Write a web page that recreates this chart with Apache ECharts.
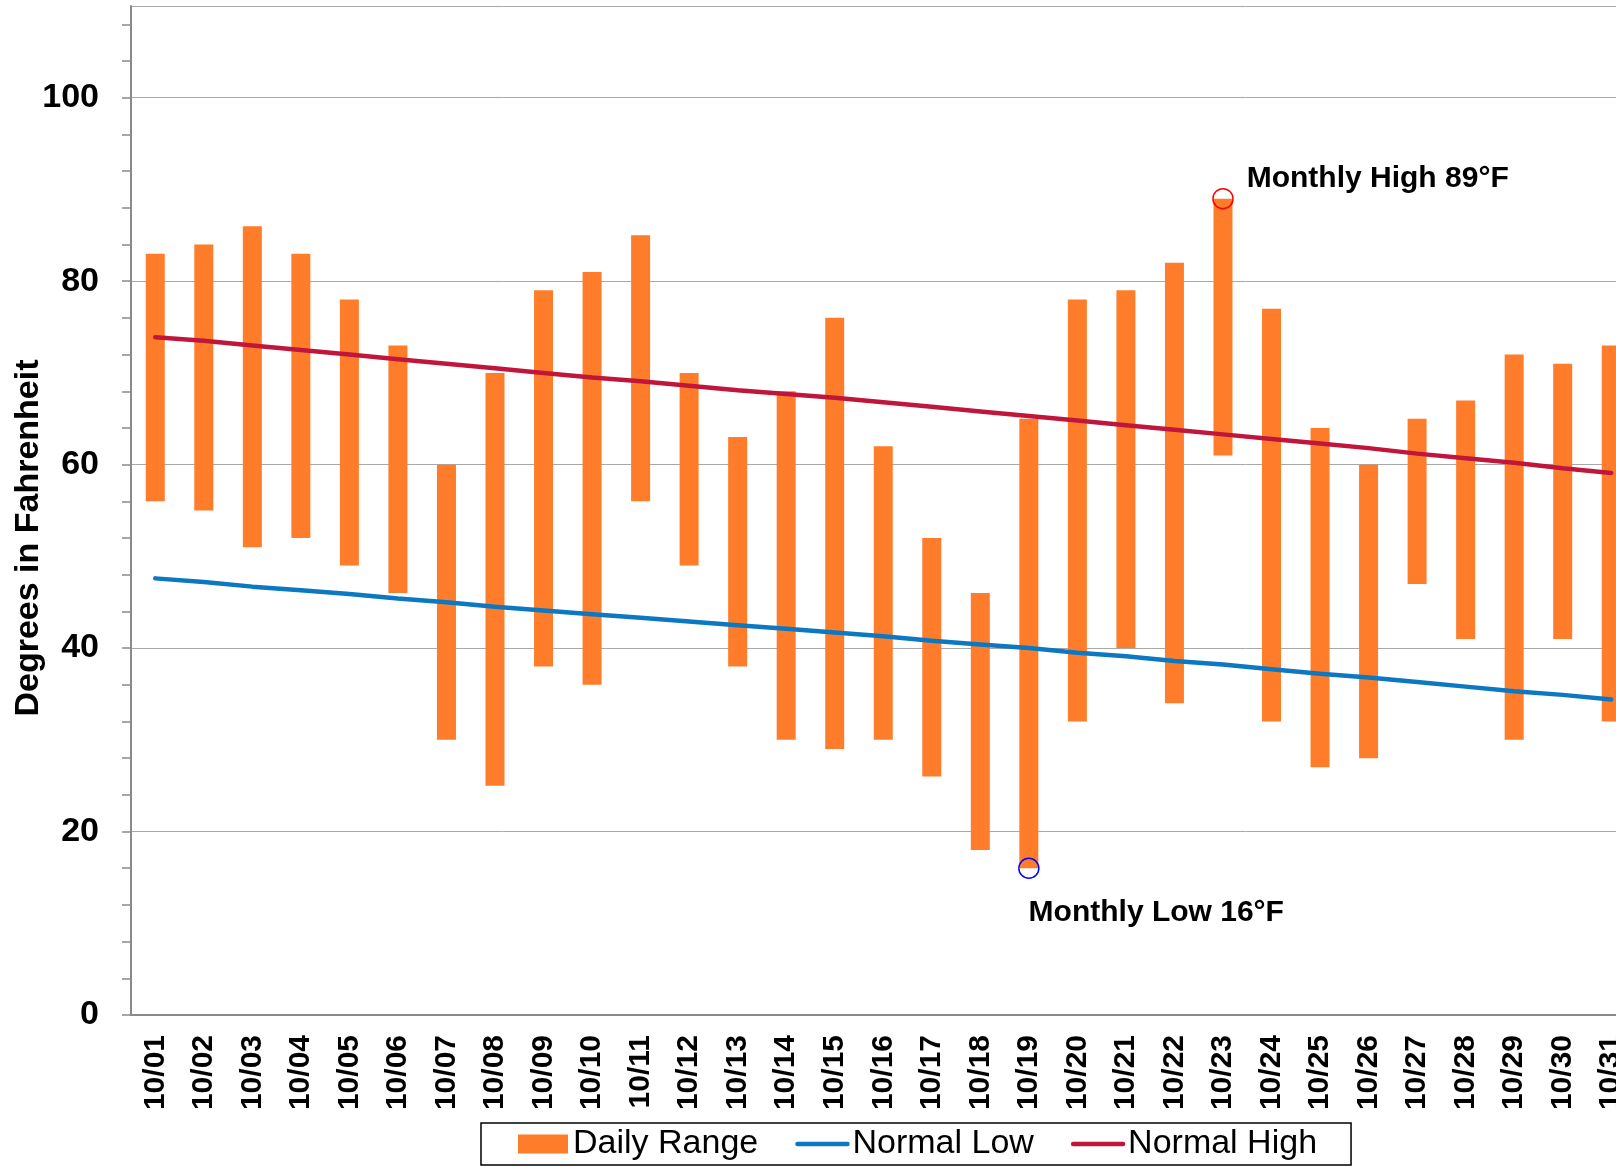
<!DOCTYPE html>
<html>
<head>
  <meta charset="UTF-8">
  <script src="https://cdn.jsdelivr.net/npm/echarts/dist/echarts.min.js"></script>
  <style>
    html, body { margin: 0; padding: 0; background: #fff; }
    #chart { width: 1616px; height: 1167px; }
  </style>
</head>
<body>
  <div id="chart"></div>
  <script>
    // October days
    var days = ['10/01', '10/02', '10/03', '10/04', '10/05', '10/06', '10/07', '10/08', '10/09', '10/10',
                '10/11', '10/12', '10/13', '10/14', '10/15', '10/16', '10/17', '10/18', '10/19', '10/20',
                '10/21', '10/22', '10/23', '10/24', '10/25', '10/26', '10/27', '10/28', '10/29', '10/30', '10/31'];

    // daily observed high / low (°F)
    var dailyHigh = [83, 84, 86, 83, 78, 73, 60, 70, 79, 81, 85, 70, 63, 68, 76, 62,
                     52, 46, 65, 78, 79, 82, 89, 77, 64, 60, 65, 67, 72, 71, 73];
    var dailyLow  = [56, 55, 51, 52, 49, 46, 30, 25, 38, 36, 56, 49, 38, 30, 29, 30,
                     26, 18, 16, 32, 40, 34, 61, 32, 27, 28, 47, 41, 30, 41, 32];

    // climate normals
    var normalHigh = [73.9, 73.5, 73.0, 72.5, 72.0, 71.5, 71.0, 70.5, 70.0, 69.5, 69.1, 68.6, 68.1, 67.7, 67.3, 66.8,
                      66.3, 65.8, 65.3, 64.8, 64.3, 63.8, 63.3, 62.8, 62.3, 61.8, 61.2, 60.7, 60.2, 59.6, 59.1];
    var normalLow  = [47.6, 47.2, 46.7, 46.3, 45.9, 45.4, 45.0, 44.5, 44.1, 43.7, 43.3, 42.9, 42.5, 42.1, 41.7, 41.3,
                      40.8, 40.4, 40.0, 39.5, 39.1, 38.6, 38.2, 37.7, 37.2, 36.8, 36.3, 35.8, 35.3, 34.9, 34.4];

    // monthly extremes
    var extremeDays   = ['10/23', '10/19'];
    var extremeTemps  = [89, 16];
    var extremeLabels = ['Monthly High 89°F', 'Monthly Low 16°F'];

    var font = '"Liberation Sans", Arial, sans-serif';
    var axisGray = '#8a8a8a';

    var range = dailyHigh.map(function (h, i) { return h - dailyLow[i]; });

    var extremeStyle = [
      { color: '#ff0000', offset: [8, -20] },
      { color: '#0000ff', offset: [-16, 44] }
    ];

    var chart = echarts.init(document.getElementById('chart'));

    chart.setOption({
      animation: false,
      textStyle: { fontFamily: font },
      grid: [
        { left: 131, right: -19.5, top: 6, bottom: 152, outerBoundsMode: 'none', containLabel: false },
        { left: 131, right: -19.5, top: 24.35, bottom: 152, outerBoundsMode: 'none', containLabel: false }
      ],
      legend: {
        left: 481,
        top: 1123,
        borderColor: '#000',
        borderWidth: 1.5,
        padding: [4, 34, 4, 37],
        itemGap: 37,
        itemWidth: 50,
        itemHeight: 19,
        textStyle: { fontSize: 34, color: '#000', fontFamily: font },
        lineStyle: { width: 4.5, cap: 'round' },
        data: [
          { name: 'Daily Range', icon: 'rect' },
          { name: 'Normal Low', itemStyle: { opacity: 0 } },
          { name: 'Normal High', itemStyle: { opacity: 0 } }
        ]
      },
      xAxis: [
        {
          type: 'category',
          gridIndex: 0,
          data: days,
          axisLine: { lineStyle: { color: axisGray, width: 2 } },
          axisTick: { show: false },
          axisLabel: {
            interval: 0, rotate: 90, margin: 20,
            fontSize: 30, fontWeight: 'bold', color: '#000', fontFamily: font
          }
        },
        { type: 'category', gridIndex: 1, data: days, show: false }
      ],
      yAxis: [
        {
          type: 'value',
          gridIndex: 0,
          min: 0, max: 110, interval: 20,
          name: 'Degrees in Fahrenheit',
          nameLocation: 'middle',
          nameGap: 85,
          nameMoveOverlap: false,
          nameTextStyle: {
            fontSize: 34, fontWeight: 'bold', color: '#000', fontFamily: font,
            padding: [0, 55, 0, 0]
          },
          axisLine: { show: true, lineStyle: { color: axisGray, width: 2 } },
          axisTick: { show: false },
          axisLabel: {
            margin: 32, fontSize: 34, fontWeight: 'bold', color: '#000', fontFamily: font,
            formatter: function (v) { return v > 100 ? '' : v; }
          },
          splitLine: { lineStyle: { color: '#a8a8a8', width: 1 } }
        },
        {
          // minor tick marks only
          type: 'value',
          gridIndex: 1,
          min: 0, max: 108, interval: 4,
          axisLine: { show: false },
          axisLabel: { show: false },
          splitLine: { show: false },
          axisTick: { show: true, length: 9, lineStyle: { color: axisGray, width: 1.5 } }
        }
      ],
      series: [
        {
          name: 'base',
          type: 'bar',
          stack: 'range',
          data: dailyLow,
          barWidth: 19,
          silent: true,
          itemStyle: { color: 'rgba(0,0,0,0)' }
        },
        {
          name: 'Daily Range',
          type: 'bar',
          stack: 'range',
          data: range,
          barWidth: 19,
          itemStyle: { color: '#ff7d2a' }
        },
        {
          name: 'Normal Low',
          type: 'line',
          data: normalLow,
          symbol: 'none',
          z: 3,
          itemStyle: { color: '#0b78c1' },
          lineStyle: { color: '#0b78c1', width: 4.5, cap: 'round' }
        },
        {
          name: 'Normal High',
          type: 'line',
          data: normalHigh,
          symbol: 'none',
          z: 3,
          itemStyle: { color: '#c0163c' },
          lineStyle: { color: '#c0163c', width: 4.5, cap: 'round' }
        },
        {
          name: 'extremes',
          type: 'scatter',
          z: 5,
          symbol: 'circle',
          symbolSize: 20,
          data: extremeDays.map(function (d, i) {
            return {
              value: [d, extremeTemps[i]],
              itemStyle: {
                color: 'rgba(0,0,0,0)', opacity: 1,
                borderColor: extremeStyle[i].color, borderWidth: 1.5
              },
              label: {
                show: true,
                position: 'right',
                offset: extremeStyle[i].offset,
                formatter: extremeLabels[i],
                fontSize: 30, fontWeight: 'bold', color: '#000', fontFamily: font
              }
            };
          })
        }
      ]
    });
  </script>
</body>
</html>
